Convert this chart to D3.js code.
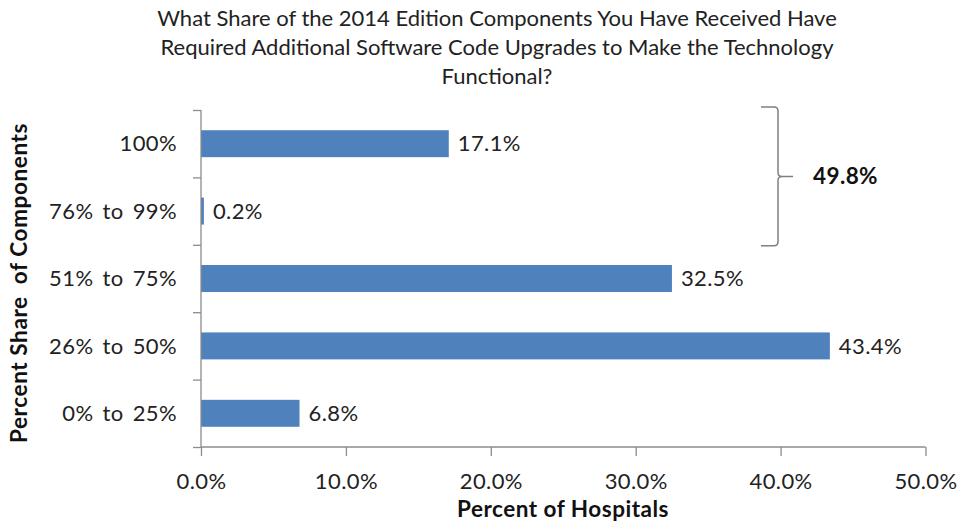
<!DOCTYPE html>
<html>
<head>
<meta charset="utf-8">
<script src="https://cdn.jsdelivr.net/npm/d3@7"></script>
<style>
  html, body { margin: 0; padding: 0; background: #fff; }
  svg { display: block; font-family: Lato, "Open Sans", sans-serif; }
</style>
</head>
<body>
<svg id="chart" width="961" height="531"></svg>
<script>
// Share of 2014 Edition components needing extra code upgrades
const categories = ["100%", "76% to 99%", "51% to 75%", "26% to 50%", "0% to 25%"];
const values = [17.1, 0.2, 32.5, 43.4, 6.8];
const xTicks = [0, 10, 20, 30, 40, 50];
const titleLines = [
  "What Share of the 2014 Edition Components You Have Received Have",
  "Required Additional Software Code Upgrades to Make the Technology",
  "Functional?"
];
const bracketTotal = "49.8%";
const bracketRows = ["100%", "76% to 99%"];

const svg = d3.select("#chart");
const plot = { left: 201, right: 925.5, top: 110, bottom: 447 };
const axisColor = "#8c8c8c";
const textColor = "#222";
const labelSize = 22;

const x = d3.scaleLinear().domain([0, 50]).range([plot.left, plot.right]);
const y = d3.scaleBand().domain(categories).range([plot.top, plot.bottom])
  .paddingInner(0.6).paddingOuter(0.3);
const edge = d3.scaleLinear().domain([0, categories.length]).range([plot.top, plot.bottom]);

// Title
svg.append("g").selectAll("text").data(titleLines).join("text")
  .attr("x", 497).attr("y", (d, i) => 26 + i * 29)
  .attr("text-anchor", "middle")
  .attr("font-size", 22).attr("fill", textColor)
  .text(d => d);

// Bars
svg.append("g").selectAll("rect").data(values).join("rect")
  .attr("x", x(0))
  .attr("y", (d, i) => y(categories[i]))
  .attr("width", d => x(d) - x(0))
  .attr("height", y.bandwidth())
  .attr("fill", "#4f81bd");

// Value labels
svg.append("g").selectAll("text").data(values).join("text")
  .attr("x", d => x(d) + 9)
  .attr("y", (d, i) => y(categories[i]) + y.bandwidth() / 2)
  .attr("dy", "0.35em")
  .attr("font-size", labelSize).attr("letter-spacing", 0.4).attr("fill", textColor)
  .text(d => d.toFixed(1) + "%");

// X axis
const xAxis = svg.append("g")
  .attr("transform", `translate(0,${plot.bottom})`)
  .call(d3.axisBottom(x).tickValues(xTicks).tickSize(9).tickPadding(17)
    .tickFormat(d => d.toFixed(1) + "%"));
xAxis.select(".domain").attr("stroke", axisColor).attr("stroke-width", 1.3)
  .attr("d", `M${x(0)},0H${x(50)}`);
xAxis.selectAll(".tick line").attr("stroke", axisColor).attr("stroke-width", 1.3);
xAxis.selectAll(".tick text").attr("font-size", labelSize).attr("letter-spacing", 0.4)
  .attr("fill", textColor).attr("font-family", "Lato, sans-serif");

// Y axis: ticks at category boundaries, labels centred on bands
const yAxis = svg.append("g")
  .attr("transform", `translate(${plot.left},0)`)
  .call(d3.axisLeft(edge).ticks(categories.length).tickSize(8).tickFormat(""));
yAxis.select(".domain").attr("stroke", axisColor).attr("stroke-width", 1.3)
  .attr("d", `M0,${plot.top}V${plot.bottom}`);
yAxis.selectAll(".tick line").attr("stroke", axisColor).attr("stroke-width", 1.3);

svg.append("g").selectAll("text").data(categories).join("text")
  .attr("x", 177)
  .attr("y", d => y(d) + y.bandwidth() / 2)
  .attr("dy", "0.35em")
  .attr("text-anchor", "end")
  .attr("font-size", labelSize).attr("letter-spacing", 0.4).attr("word-spacing", 3)
  .attr("fill", textColor)
  .text(d => d);

// Axis titles
svg.append("text")
  .attr("x", 563).attr("y", 517)
  .attr("text-anchor", "middle")
  .attr("font-size", 22.5).attr("letter-spacing", 0.5)
  .attr("font-weight", "bold").attr("fill", "#111")
  .text("Percent of Hospitals");

svg.append("text")
  .attr("transform", "translate(27,283) rotate(-90)")
  .attr("text-anchor", "middle")
  .attr("font-size", 22.5).attr("letter-spacing", 0.6)
  .attr("font-weight", "bold").attr("fill", "#111")
  .style("white-space", "pre")
  .text("Percent Share  of Components");

// Bracket grouping the two top rows
const bTop = y(bracketRows[0]) - y.step() * y.paddingOuter() - 3;
const bBot = y(bracketRows[1]) + y.bandwidth() + y.step() * y.paddingInner() / 2 + 1;
const bMid = (bTop + bBot) / 2;
const bx = 778, r = 4;
svg.append("path")
  .attr("d", `M761,${bTop}H${bx - r}Q${bx},${bTop} ${bx},${bTop + r}` +
             `V${bMid - r}Q${bx},${bMid} ${bx + r},${bMid}H793` +
             `M${bx + r},${bMid}Q${bx},${bMid} ${bx},${bMid + r}` +
             `V${bBot - r}Q${bx},${bBot} ${bx - r},${bBot}H761`)
  .attr("fill", "none").attr("stroke", "#7f7f7f").attr("stroke-width", 1.5);

svg.append("text")
  .attr("x", 813).attr("y", bMid).attr("dy", "0.35em")
  .attr("font-size", 22.5).attr("letter-spacing", 0.4)
  .attr("font-weight", "bold").attr("fill", "#111")
  .text(bracketTotal);
</script>
</body>
</html>
